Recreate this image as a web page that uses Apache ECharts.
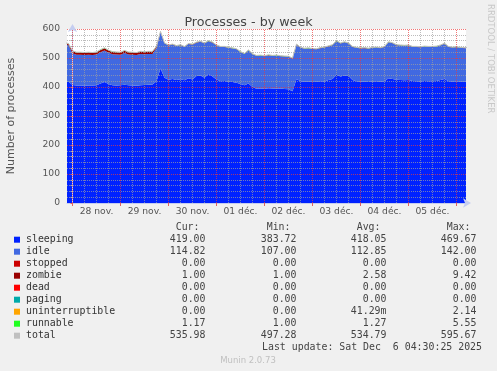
<!DOCTYPE html>
<html>
<head>
<meta charset="utf-8">
<script src="https://cdn.jsdelivr.net/npm/echarts@6/dist/echarts.min.js"></script>
<style>
html,body{margin:0;padding:0;background:#f0f0f0;}
#chart{width:497px;height:371px;}
</style>
</head>
<body>
<div id="chart"></div>
<script>
// ---- data (hours relative to 28 nov. 2025 00:00, 2-hour samples) ----
const hours = [];
for (let t = -4; t <= 198; t += 2) hours.push(t);

const sleeping = [
  420,418,407,405,405,404,405,405,406,412,417,410,406,405,406,408,406,405,404,406,407,408,409,
  420,464,432,425,428,424,427,423,430,426,438,440,432,445,436,426,420,421,418,417,415,410,406,412,400,
  394,395,394,396,395,394,395,393,392,385,428,420,418,419,417,418,420,419,424,428,442,436,440,438,424,
  420,418,419,417,419,420,418,420,430,428,425,424,423,424,421,420,419,421,420,420,421,424,428,420,419,420,419,419,419
];
const idle = [
  129,126,109,106,106,106,106,105,106,108,109,108,107,107,105,109,106,106,106,108,106,106,105,
  115,126,118,118,118,117,117,115,118,120,115,116,118,113,117,117,118,117,117,116,115,110,108,114,113,
  113,113,112,113,112,114,111,112,112,113,118,115,114,114,114,112,114,117,116,116,116,114,114,112,114,
  115,115,115,115,116,116,116,118,124,123,119,119,119,119,117,118,118,118,118,118,118,119,121,118,117,117,116,115,115
];
const zombie = [
  3,5,8,8,8,8,8,8,8,8,8,8,8,8,8,8,8,8,8,8,8,8,8,
  4,1,1,1,1,1,1,1,1,1,1,1,1,1,1,1,1,1,1,1,1,1,1,1,1,
  1,1,1,1,1,1,1,1,1,1,1,1,1,1,1,1,1,1,1,1,1,1,1,1,1,
  1,1,1,1,1,1,1,1,1,1,1,1,1,1,1,1,1,1,1,1,1,1,1,1,1,1,1,1,1
];
const runnable = [
  1,1,1,1,1,1,1,1,1,1,1,1,1,1,1,1,1,1,1,1,1,1,1,
  1,1,1,1,1,1,1,1,1,1,1,1,1,1,1,1,1,1,1,1,1,1,1,1,1,
  1,1,1,1,1,1,1,1,1,1,1,1,1,1,1,1,1,1,1,1,1,1,1,1,1,
  1,1,1,1,1,1,1,1,1,1,1,1,1,1,1,1,1,1,1,1,1,1,1,1,1,1,1,1,1
];
const total = [
  553,550,525,520,520,519,520,519,521,529,535,527,522,521,520,526,521,520,519,523,522,523,523,
  540,592,552,545,548,543,546,540,550,548,555,558,552,560,555,545,540,540,537,535,532,522,516,528,515,
  509,510,508,511,509,510,508,507,506,500,548,537,534,535,533,532,536,538,542,546,560,552,556,552,540,
  537,535,536,534,537,538,536,540,556,553,546,545,544,545,540,540,539,541,540,540,541,545,551,540,538,539,537,536,536
];

const dayLabels = ['28 nov.','29 nov.','30 nov.','01 déc.','02 déc.','03 déc.','04 déc.','05 déc.'];
const labelHours = [12,36,60,84,108,132,156,180];
const midnightHours = [0,24,48,72,96,120,144,168,192];
const startHour = -2.75, endHour = 196.75;

const legendNames = ['sleeping','idle','stopped','zombie','dead','paging','uninterruptible','runnable','total'];
const legendCur = ['419.00','114.82','0.00','1.00','0.00','0.00','0.00','1.17','535.98'];
const legendMin = ['383.72','107.00','0.00','1.00','0.00','0.00','0.00','1.00','497.28'];
const legendAvg = ['418.05','112.85','0.00','2.58','0.00','0.00','41.29m','1.27','534.79'];
const legendMax = ['469.67','142.00','0.00','9.42','0.00','0.00','2.14','5.55','595.67'];
const lastUpdate = 'Last update: Sat Dec  6 04:30:25 2025';

// ---- styles ----
const colors = {
  sleeping:'#0022ff', idle:'#4169e1', stopped:'#cc0000', zombie:'#990000', dead:'#ff0000',
  paging:'#00aaaa', uninterruptible:'#ffa500', runnable:'#22ff22', total:'#c0c0c0'
};
const minorGrid = {color:'rgba(160,160,160,0.7)', width:1, type:[1,1]};
const majorGrid = {color:'rgba(235,60,60,0.7)', width:1, type:[1,1]};

const minorHours = [];
for (let h = 6; h <= 196; h += 6) if (h % 24 !== 0) minorHours.push(h);

// stacked series: value first, hour second; encode maps them so the stack runs on the y values
function stackPairs(arr){ return hours.map((t,i)=>[arr[i], t]); }
function areaSeries(name, arr){
  return {
    name, type:'line', stack:'procs', data:stackPairs(arr), encode:{x:1, y:0},
    showSymbol:false, symbol:'none',
    lineStyle:{width:0}, areaStyle:{color:colors[name], opacity:1}, itemStyle:{color:colors[name]},
    z:2, animation:false, silent:true
  };
}

const chart = echarts.init(document.getElementById('chart'), null, {renderer:'canvas'});

const graphics = [];
const monoFont = '9.9px "DejaVu Sans Mono"';
const rowY0 = 239.7, rowH = 12;
const colRight = [205.5, 296.5, 386.5, 476.5];
['Cur:','Min:','Avg:','Max:'].forEach((h,j)=>{
  graphics.push({type:'text', x:colRight[j]-6, y:227.5, silent:true,
    style:{text:h, font:monoFont, fill:'#444', textAlign:'right', textVerticalAlign:'middle'}});
});
legendNames.forEach((n,k)=>{
  const y = rowY0 + rowH*k;
  graphics.push({type:'rect', shape:{x:14, y:y-3, width:6, height:6}, silent:true, style:{fill:colors[n]}});
  graphics.push({type:'text', x:26, y:y, silent:true,
    style:{text:n, font:monoFont, fill:'#333', textAlign:'left', textVerticalAlign:'middle'}});
  [legendCur, legendMin, legendAvg, legendMax].forEach((col,j)=>{
    graphics.push({type:'text', x:colRight[j], y:y, silent:true,
      style:{text:col[k], font:monoFont, fill:'#444', textAlign:'right', textVerticalAlign:'middle'}});
  });
});
graphics.push({type:'text', x:482, y:347.7, silent:true,
  style:{text:lastUpdate, font:monoFont, fill:'#444', textAlign:'right', textVerticalAlign:'middle'}});
graphics.push({type:'text', x:248, y:360.5, silent:true,
  style:{text:'Munin 2.0.73', font:'8.5px "DejaVu Sans"', fill:'#c0c0c0', textAlign:'center', textVerticalAlign:'middle'}});
graphics.push({type:'text', x:490, y:4, rotation:-Math.PI/2, silent:true,
  style:{text:'RRDTOOL / TOBI OETIKER', font:'8.5px "DejaVu Sans"', fill:'#c8c8c8', textAlign:'left', textVerticalAlign:'middle'}});

const option = {
  backgroundColor:'#f0f0f0',
  animation:false,
  title:{text:'Processes - by week', left:'center', top:11,
    textStyle:{fontFamily:'DejaVu Sans', fontSize:12.7, fontWeight:'normal', color:'#444'}},
  grid:{left:67, right:31, top:29, bottom:168, show:true, backgroundColor:'#ffffff', borderWidth:0,
    containLabel:false, outerBoundsMode:'none'},
  xAxis:{
    type:'value', min:startHour, max:endHour, z:3,
    axisLine:{show:true, lineStyle:{color:'#c5cdf0', width:1}, symbol:['none','arrow'], symbolSize:[7,8], symbolOffset:[0,5]},
    axisTick:{show:true, customValues:midnightHours, length:3, inside:false, lineStyle:{color:'#e06060'}},
    axisLabel:{customValues:labelHours, margin:4.5, color:'#555', fontFamily:'DejaVu Sans', fontSize:9.2,
      formatter:(v)=>{
        let best = 0;
        labelHours.forEach((m,i)=>{ if (Math.abs(m - v) < Math.abs(labelHours[best] - v)) best = i; });
        return dayLabels[best];
      }},
    splitLine:{show:false}
  },
  yAxis:{
    type:'value', min:0, max:600, interval:100, z:3,
    name:'Number of processes', nameLocation:'middle', nameGap:50, nameRotate:90,
    nameTextStyle:{fontFamily:'DejaVu Sans', fontSize:11, color:'#555'},
    axisLine:{show:true, lineStyle:{color:'#c5cdf0', width:1}, symbol:['none','arrow'], symbolSize:[7,8], symbolOffset:[0,5]},
    axisTick:{show:true, length:2, lineStyle:{color:'#e06060'}},
    minorTick:{show:true, splitNumber:5, length:2, lineStyle:{color:'#aaaaaa'}},
    axisLabel:{margin:7, color:'#555', fontFamily:'DejaVu Sans', fontSize:9.2},
    splitLine:{show:true, lineStyle:majorGrid},
    minorSplitLine:{show:true, lineStyle:minorGrid}
  },
  graphic:graphics,
  series:[
    areaSeries('sleeping', sleeping),
    areaSeries('idle', idle),
    areaSeries('zombie', zombie),
    areaSeries('runnable', runnable),
    {
      name:'total', type:'line', data:hours.map((t,i)=>[t, total[i]]), showSymbol:false, symbol:'none',
      lineStyle:{color:colors.total, width:1}, z:4, silent:true, animation:false,
      markLine:{
        silent:true, symbol:['none','none'], label:{show:false}, animation:false, z:5,
        data:[
          ...minorHours.map(h=>({xAxis:h, lineStyle:minorGrid})),
          ...midnightHours.map(h=>({xAxis:h, lineStyle:majorGrid}))
        ]
      }
    }
  ]
};
chart.setOption(option);
</script>
</body>
</html>
